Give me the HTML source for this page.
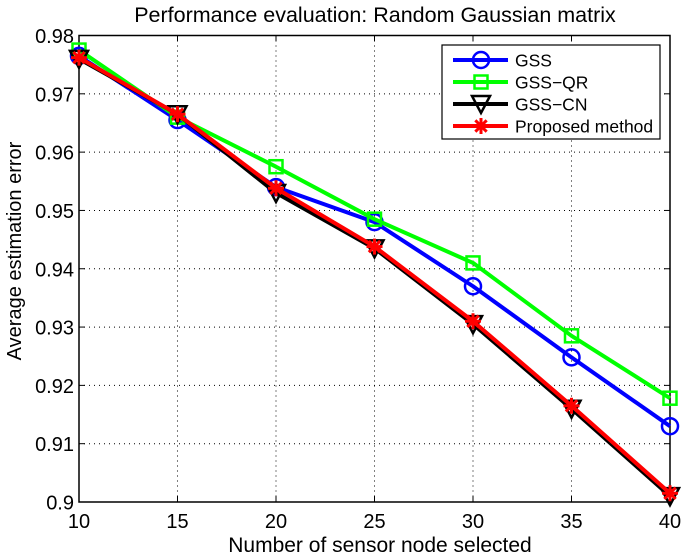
<!DOCTYPE html>
<html><head><meta charset="utf-8"><style>
body{margin:0;background:#fff;}
svg{display:block;font-family:"Liberation Sans",sans-serif;}
</style></head><body>
<svg id="chart" width="685" height="559">
<text x="375" y="22" text-anchor="middle" font-size="21.5">Performance evaluation: Random Gaussian matrix</text>
<g id="grid"></g>
<g id="axes"></g>
<g id="series"></g>
<text x="380" y="552" text-anchor="middle" font-size="21">Number of sensor node selected</text>
<text transform="translate(21,251) rotate(-90)" text-anchor="middle" font-size="20">Average estimation error</text>
<g id="legend"></g>
</svg>
<script>
const categories=[10,15,20,25,30,35,40];
const gss=[0.9765,0.9655,0.954,0.948,0.937,0.9248,0.913];
const gssQR=[0.9775,0.966,0.9575,0.9485,0.941,0.9285,0.9178];
const gssCN=[0.976,0.9665,0.953,0.9435,0.9305,0.916,0.901];
const proposed=[0.9762,0.9665,0.9538,0.9438,0.931,0.9165,0.9015];
const xTicks=[10,15,20,25,30,35,40];
const yTicks=[0.9,0.91,0.92,0.93,0.94,0.95,0.96,0.97,0.98];
const yTickLabels=["0.9","0.91","0.92","0.93","0.94","0.95","0.96","0.97","0.98"];
const seriesNames=["GSS","GSS\u2212QR","GSS\u2212CN","Proposed method"];

const L=79,R=670,T=35.5,B=502;
const xs=v=>L+(v-10)/30*(R-L);
const ys=v=>B-(v-0.9)/0.08*(B-T);
const NS="http://www.w3.org/2000/svg";
function mk(tag,attrs,parent){const e=document.createElementNS(NS,tag);for(const k in attrs)e.setAttribute(k,attrs[k]);parent.appendChild(e);return e;}
const grid=document.getElementById('grid'),axes=document.getElementById('axes'),ser=document.getElementById('series'),leg=document.getElementById('legend');
xTicks.forEach(t=>{const x=xs(t);
 if(t>10&&t<40){const g=mk('line',{x1:x,x2:x,y1:T,y2:B,stroke:'#000','stroke-width':1,'stroke-dasharray':'1 4'},grid);}
 mk('line',{x1:x,x2:x,y1:B,y2:B-6,stroke:'#000'},axes);mk('line',{x1:x,x2:x,y1:T,y2:T+6,stroke:'#000'},axes);
 const tx=mk('text',{x:x,y:B+26,'text-anchor':'middle','font-size':20},axes);tx.textContent=t;
 });
yTicks.forEach((t,i)=>{const y=ys(t);
 if(i>0&&i<yTicks.length-1){const g=mk('line',{x1:L,x2:R,y1:y,y2:y,stroke:'#000','stroke-width':1,'stroke-dasharray':'1 4'},grid);}
 mk('line',{x1:L,x2:L+6,y1:y,y2:y,stroke:'#000'},axes);mk('line',{x1:R,x2:R-6,y1:y,y2:y,stroke:'#000'},axes);
 const tx=mk('text',{x:L-5,y:y+7.5,'text-anchor':'end','font-size':20},axes);tx.textContent=yTickLabels[i];
 });
mk('rect',{x:L,y:T,width:R-L,height:B-T,fill:'none',stroke:'#000','stroke-width':1.5},axes);

function marker(type,x,y,color,parent){
 if(type==='o')mk('circle',{cx:x,cy:y,r:8,fill:'none',stroke:color,'stroke-width':2.5},parent);
 else if(type==='s')mk('rect',{x:x-6.5,y:y-6.5,width:13,height:13,fill:'none',stroke:color,'stroke-width':2.5},parent);
 else if(type==='v')mk('polygon',{points:`${x-9},${y-8} ${x+9},${y-8} ${x},${y+9}`,fill:'none',stroke:color,'stroke-width':2.5},parent);
 else{for(let a=0;a<4;a++){const an=a*Math.PI/4;mk('line',{x1:x-8*Math.cos(an),y1:y-8*Math.sin(an),x2:x+8*Math.cos(an),y2:y+8*Math.sin(an),stroke:color,'stroke-width':3},parent);}}
}
const defs=[[gss,'#0000ff','o','series-gss'],[gssQR,'#00ff00','s','series-gss-qr'],[gssCN,'#000000','v','series-gss-cn'],[proposed,'#ff0000','*','series-proposed']];
defs.forEach(([data,color,m,name])=>{
 const g=mk('g',{},ser);
 mk('polyline',{points:data.map((v,i)=>xs(categories[i])+','+ys(v)).join(' '),fill:'none',stroke:color,'stroke-width':4,'stroke-linejoin':'round'},g);
 data.forEach((v,i)=>marker(m,xs(categories[i]),ys(v),color,g));
});
mk('rect',{x:442,y:45,width:218,height:94,fill:'#fff',stroke:'#000','stroke-width':1.2},leg);
defs.forEach(([d,color,m],i)=>{const y=60+i*22;
 const g=mk('g',{},leg);
 mk('line',{x1:453,x2:508,y1:y,y2:y,stroke:color,'stroke-width':4},g);marker(m,481,y,color,g);
 const t=mk('text',{x:515,y:y+6.5,'font-size':17.5},g);t.textContent=seriesNames[i];});
</script>
</body></html>
